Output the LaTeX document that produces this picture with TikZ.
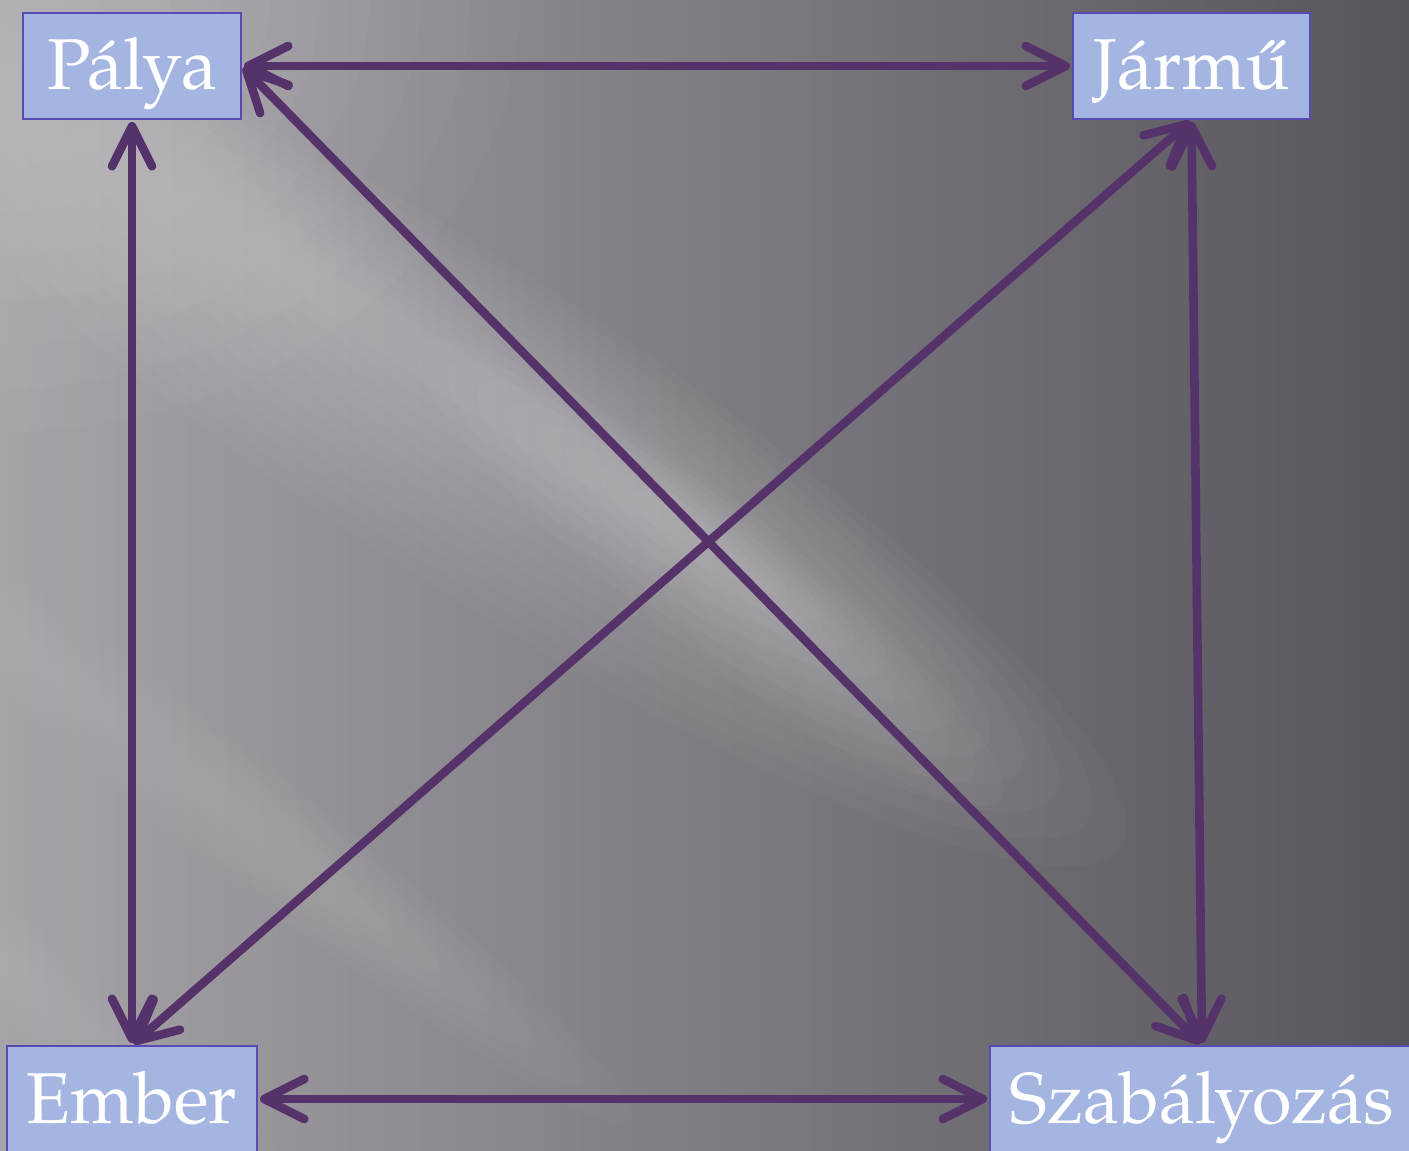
\documentclass[tikz,border=0pt]{standalone}
\usepackage{fontspec}
\setmainfont{texgyrepagella-regular.otf}
\usetikzlibrary{arrows.meta}
\definecolor{arrowc}{HTML}{55336A}
\definecolor{boxfill}{HTML}{A3B5E0}
\definecolor{boxline}{HTML}{5A4BB4}
\definecolor{bgL}{HTML}{A6A3A9}
\definecolor{bgM}{HTML}{737177}
\definecolor{bgR}{HTML}{57555B}
\begin{document}
\begin{tikzpicture}[x=0.5pt,y=-0.5pt,
  box/.style={draw=boxline, line width=1pt, fill=boxfill, text=white, inner sep=0pt,
    font=\fontsize{36}{40}\selectfont, text height=24pt, text depth=0pt, minimum height=53pt},
  link/.style={draw=arrowc, line width=4.3pt,
    {Straight Barb[length=20pt,width=20pt,round]}-{Straight Barb[length=20pt,width=20pt,round]},
    shorten <=1pt, shorten >=1pt},
  glow/.style={fill=white, opacity=0.022}]
\useasboundingbox (0,0) rectangle (1409,1151);
% background
\shade[left color=bgL, middle color=bgM, right color=bgR] (0,0) rectangle (1409,1151);
\begin{scope}
  \clip (0,0) rectangle (1409,1151);
  % top-left sheen
  \foreach \i in {1,...,8}
    \fill[fill=white, opacity=0.025] (0,0) ellipse [x radius={(60+25*\i)*1pt}, y radius={(40+22*\i)*1pt}];
  % main light band through the centre
  \begin{scope}[shift={(500,400)}, rotate=-33]
    \foreach \i in {1,...,12}
      \fill[glow] (0,{3*\i}) ellipse [x radius={(130+21*\i)*1pt}, y radius={(6+6*\i)*1pt}];
  \end{scope}
  \begin{scope}[shift={(720,560)}, rotate=-38]
    \foreach \i in {1,...,8}
      \fill[glow] (0,{2*\i}) ellipse [x radius={(40+18*\i)*1pt}, y radius={(4+4*\i)*1pt}];
  \end{scope}
  % faint lower streaks
  \begin{scope}[shift={(220,800)}, rotate=-38]
    \foreach \i in {1,...,6}
      \fill[fill=white, opacity=0.02] (0,0) ellipse [x radius={(80+30*\i)*1pt}, y radius={(4+4*\i)*1pt}];
  \end{scope}
  \begin{scope}[shift={(60,1010)}, rotate=-40]
    \foreach \i in {1,...,5}
      \fill[fill=white, opacity=0.02] (0,0) ellipse [x radius={(40+25*\i)*1pt}, y radius={(3+4*\i)*1pt}];
  \end{scope}
\end{scope}
% nodes
\node[box, minimum width=109pt]   (P) at (132,66)     {Pálya};
\node[box, minimum width=118.5pt] (J) at (1191.5,66)  {Jármű};
\node[box, minimum width=125pt]   (E) at (132,1099)   {Ember};
\node[box, minimum width=212pt]   (S) at (1202,1099)  {Szabályozás};
% connectors
\draw[link] (P) -- (J);
\draw[link] (P) -- (E);
\draw[link] (E) -- (S);
\draw[link] (J.south) -- (S.north);
\draw[link] (P.east) -- (S.north);
\draw[link] (E.north) -- (J.south);
\end{tikzpicture}
\end{document}
